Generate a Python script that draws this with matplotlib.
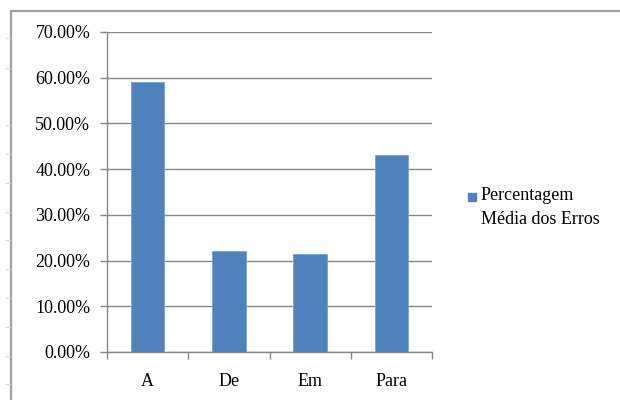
import matplotlib.pyplot as plt
from matplotlib.lines import Line2D
from matplotlib.patches import Rectangle
from matplotlib.ticker import FuncFormatter, FixedLocator

# dados
categorias = ["A", "De", "Em", "Para"]
valores = [0.591, 0.220, 0.214, 0.431]
legenda = "Percentagem\nMédia dos Erros"

cor_barra = "#4F81BD"
cinza = "#868686"

plt.rcParams['font.family'] = ['Liberation Serif', 'DejaVu Serif']

fig = plt.figure(figsize=(6.2, 4.0), dpi=100)
ax = fig.add_axes([107 / 620, 48 / 400, 325 / 620, 320 / 400])

x = list(range(len(categorias)))
ax.bar(x, valores, width=0.41, color=cor_barra, edgecolor="#7FA2D0", linewidth=0.6, zorder=3)

ax.set_xlim(-0.5, len(categorias) - 0.5)
ax.set_ylim(0, 0.70)
ax.set_yticks([i / 10 for i in range(8)])
ax.yaxis.set_major_formatter(FuncFormatter(lambda v, p: f"{v * 100:.2f}%"))
ax.grid(axis='y', color=cinza, linewidth=1.0, zorder=0)

ax.set_xticks(x)
ax.set_xticklabels(categorias)
ax.xaxis.set_minor_locator(FixedLocator([i + 0.5 for i in range(-1, len(categorias))]))
ax.tick_params(axis='x', which='major', length=0, pad=15, labelsize=13)
ax.tick_params(axis='x', which='minor', length=5, color=cinza, width=1.0)
ax.tick_params(axis='y', length=5, color=cinza, width=1.0, pad=7, labelsize=13)

for s in ['top', 'right']:
    ax.spines[s].set_visible(False)
for s in ['left', 'bottom']:
    ax.spines[s].set_color(cinza)
    ax.spines[s].set_linewidth(1.0)

# legenda manual
fig.patches.append(Rectangle((468 / 620, 1 - 201 / 400), 8 / 620, 8 / 400,
                             transform=fig.transFigure, color=cor_barra))
fig.text(481 / 620, 1 - 187 / 400, legenda, fontsize=13, va='top', ha='left',
         linespacing=1.55)

# borda do gráfico
fig.add_artist(Line2D([11 / 620, 11 / 620, 1.0], [0.0, 1 - 11 / 400, 1 - 11 / 400],
                      transform=fig.transFigure, color="#A0A0A0", linewidth=1.6))

# pequenas marcas à esquerda
for yy in [38, 68, 125, 154, 183, 212, 240, 269, 298, 327, 356, 384]:
    fig.add_artist(Line2D([6 / 620, 10 / 620], [1 - yy / 400, 1 - yy / 400],
                          transform=fig.transFigure, color="#D5D8E6", linewidth=0.8))

fig.savefig("out.png", dpi=100, facecolor="white")
